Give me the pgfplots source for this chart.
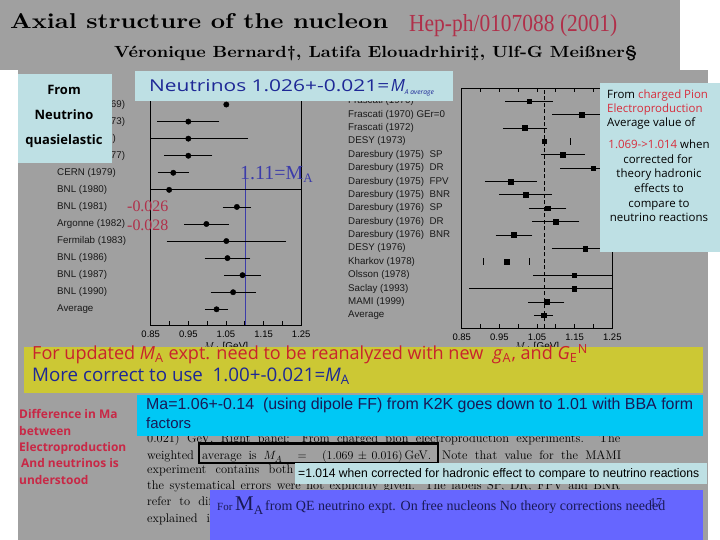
\documentclass[border=0pt]{standalone}
\usepackage{fontspec}
\usepackage{graphicx}
\usepackage{pgfplots}
\usepackage{pgfplotstable}
\pgfplotsset{compat=1.18}
\newfontfamily\helv{Liberation Sans}
\newfontfamily\tnr{Liberation Serif}
\newfontfamily\comic{Open Sans}
\definecolor{bggray}{RGB}{160,160,160}
\definecolor{lcyan}{RGB}{190,224,228}
\definecolor{bcyan}{RGB}{0,200,245}
\definecolor{yel}{RGB}{204,200,52}
\definecolor{purp}{RGB}{102,102,255}
\definecolor{dblue}{RGB}{30,40,150}
\definecolor{crim}{RGB}{200,40,70}
\definecolor{boxred}{RGB}{215,45,60}
\definecolor{yred}{RGB}{200,35,45}
\definecolor{hepred}{RGB}{176,48,74}
\definecolor{navy}{RGB}{25,25,85}
\definecolor{ltblue}{RGB}{60,60,170}

% rows counted from the bottom (Average = 1)
\pgfplotstableread{
y x e
12 0.950 0.074
11 0.950 0.150
10 0.950 0.055
9 0.910 0.033
8 0.899 0.400
7 1.079 0.029
6 0.998 0.050
5 1.051 0.150
4 1.054 0.052
3 1.094 0.040
2 1.069 0.051
1 1.025 0.022
}\leftdata

\pgfplotstableread{
y x e
17 1.029 0.054
16 1.169 0.070
15 1.018 0.050
13 1.119 0.049
12 1.199 0.078
11 0.980 0.060
10 1.020 0.061
9 1.078 0.041
8 1.100 0.054
7 0.989 0.040
6 1.178 0.080
4 1.149 0.100
3 1.149 0.270
2 1.075 0.039
1 1.067 0.016
}\rightdata

\pgfplotsset{
  panel/.style={
    scale only axis, xmin=0.85, xmax=1.25,
    xtick={0.85,0.9,0.95,1,1.05,1.1,1.15,1.2,1.25},
    xticklabels={0.85,,0.95,,1.05,,1.15,,1.25},
    xtick pos=both, xticklabel pos=lower,
    tick align=inside, major tick length=4bp,
    ytick style={draw=none},
    xtick style={black, line width=0.7bp},
    axis line style={black, line width=0.9bp},
    xticklabel style={font=\helv\fontsize{9.5}{10}\selectfont, yshift=-2bp},
    yticklabel style={font=\helv\fontsize{9.8}{10}\selectfont, anchor=west, inner sep=0pt, text=black!90},
  },
  ebar/.style={black, only marks, mark size=2.7bp,
    /pgfplots/error bars/x dir=both, /pgfplots/error bars/x explicit,
    /pgfplots/error bars/error bar style={line width=0.8bp, black},
    /pgfplots/error bars/error mark options={mark size=3.3bp, line width=0.8bp, black}},
}

\tikzset{t/.style={anchor=base west, inner sep=0pt}, tc/.style={anchor=base, inner sep=0pt}}

\begin{document}
\begin{tikzpicture}[x=1bp,y=1bp]
\useasboundingbox (0,0) rectangle (720,540);
\fill[white] (0,0) rectangle (720,540);
\fill[bggray] (0,470) rectangle (680,540);
\fill[bggray] (18,0) rectangle (708,470);

% title area
\node[t] at (10,511) {\resizebox{378bp}{15bp}{\bfseries Axial structure of the nucleon}};
\node[t, text=hepred] at (409,508.5) {\resizebox{208bp}{17bp}{\tnr Hep-ph/0107088 (2001)}};
\node[t] at (114,482) {\resizebox{523bp}{11.5bp}{\bfseries Véronique Bernard\textdagger, Latifa Elouadrhiri\textdaggerdbl, Ulf-G Meißner\S}};

% left panel
\begin{axis}[panel, at={(150.7bp,215bp)}, anchor=south west, width=150.5bp, height=237bp,
  ymin=0.08, ymax=13.97, ytick={1,...,13},
  yticklabels={Average,BNL (1990),BNL (1987),BNL (1986),Fermilab (1983),Argonne (1982),BNL (1981),BNL (1980),CERN (1979),Argonne (1977),CERN (1977),Argonne (1973),Argonne (1969)},
  yticklabel style={xshift=-93.7bp}]
\addplot[ltblue, line width=1bp] coordinates {(1.103,9.3) (1.103,0.08)};
\addplot[ebar, mark=*] table[x=x, y=y, x error=e] {\leftdata};
\addplot[black, only marks, mark=*, mark size=2.7bp] coordinates {(1.051,13)};
\end{axis}
\node[tc, font=\helv\fontsize{10}{10}\selectfont] at (226,190) {$M_A$ [GeV]};

% right panel
\begin{axis}[panel, at={(461.7bp,212bp)}, anchor=south west, width=150.6bp, height=239.7bp,
  ymin=0.05, ymax=17.97, ytick={1,...,17},
  yticklabels={Average,MAMI (1999),Saclay (1993),Olsson (1978),Kharkov (1978),DESY (1976),Daresbury (1976)\ \ BNR,Daresbury (1976)\ \ DR,Daresbury (1976)\ \ SP,Daresbury (1975)\ \ BNR,Daresbury (1975)\ \ FPV,Daresbury (1975)\ \ DR,Daresbury (1975)\ \ SP,DESY (1973),Frascati (1972),Frascati (1970) GEr=0,Frascati (1970)},
  yticklabel style={xshift=-113.7bp}]
\addplot[black, line width=0.8bp, dash pattern=on 4bp off 2.5bp] coordinates {(1.069,0.05) (1.069,17.97)};
\addplot[ebar, mark=square*, mark size=2.4bp] table[x=x, y=y, x error=e] {\rightdata};
\addplot[black, only marks, mark=square*, mark size=2.2bp] coordinates {(1.069,14) (0.970,5)};
\addplot[black, only marks, mark=|, mark size=3.3bp, line width=0.8bp] coordinates {(1.138,14) (0.908,5) (1.030,5)};
\end{axis}
\node[tc, font=\helv\fontsize{10}{10}\selectfont] at (537,190) {$M_A$ [GeV]};

% text in red/blue on the plots
\node[t, text=ltblue] at (240,360) {\tnr\fontsize{20}{20}\selectfont 1.11=M\raisebox{-3bp}{\fontsize{13}{13}\selectfont A}};
\node[t, text=hepred] at (127,328) {\tnr\fontsize{16}{16}\selectfont -0.026};
\node[t, text=hepred] at (127,309) {\tnr\fontsize{16}{16}\selectfont -0.028};

% From Neutrino box
\fill[lcyan] (18,377) rectangle (112,466);
\node[tc] at (64,445) {\comic\bfseries\fontsize{13}{13}\selectfont From};
\node[tc] at (64,420.5) {\comic\bfseries\fontsize{13}{13}\selectfont Neutrino};
\node[tc] at (64,395) {\comic\bfseries\fontsize{13}{13}\selectfont quasielastic};

% Neutrinos box
\fill[lcyan] (135,438.5) rectangle (453,469);
\node[t, text=dblue] at (149,448) {\resizebox{240bp}{12bp}{\comic Neutrinos 1.026+-0.021=}\,\resizebox{!}{12bp}{\comic\itshape M}\raisebox{-3bp}{\resizebox{29bp}{!}{\comic\itshape A average}}};

% right explanation box
\fill[lcyan] (600,288) rectangle (720,457);
\begin{scope}[every node/.append style={font=\comic\fontsize{11.5}{11.5}\selectfont}]
\node[t] at (607,441) {From \textcolor{boxred}{charged Pion}};
\node[t, text=boxred] at (607,427) {Electroproduction};
\node[t] at (607,413) {Average value of};
\node[tc] at (659,391) {\textcolor{boxred}{1.069->1.014} when};
\node[tc] at (658,376) {corrected for};
\node[tc] at (659,362) {theory hadronic};
\node[tc] at (659,347) {effects to};
\node[tc] at (659,332.5) {compare to};
\node[tc] at (659,318) {neutrino reactions};
\end{scope}

% background paper text
\begin{scope}[every node/.append style={font=\fontsize{12.5}{14}\selectfont}]
\node[t] at (147,97) {\makebox[473bp][s]{0.021) GeV. Right panel: From charged pion electroproduction experiments. The}};
\node[t] at (147,80) {weighted};
\node[t] at (202,80) {\makebox[229bp][s]{average is $M_A\;=\;(1.069\pm0.016)\,$GeV.}};
\node[t] at (442,80) {\makebox[179bp][s]{Note that value for the MAMI}};
\node[t] at (147,66) {\makebox[473bp][s]{experiment contains both the statistical and systematical errors, for the others}};
\node[t] at (147,50) {\makebox[473bp][s]{the systematical errors were not explicitly given. The labels SP, DR, FPV and BNR}};
\node[t] at (147,34) {\makebox[473bp][s]{refer to different methods of extracting the axial mass from these data as it is}};
\node[t] at (147,17) {\makebox[473bp][s]{explained in detail in the text and also in the original references given there.}};
\end{scope}
\draw[line width=2.5bp] (199,77) rectangle (438,96.5);

% yellow box
\fill[yel] (24,147) rectangle (703,193);
\node[t, text=yred] at (32,180) {\resizebox{556bp}{!}{\comic For updated \textit{M}\textsubscript{A} expt. need to be reanalyzed with new\ \ \textit{g}\textsubscript{A}, and \textit{G}\textsubscript{E}\textsuperscript{N}}};
\node[t, text=dblue] at (32,158) {\resizebox{318bp}{!}{\comic More correct to use\ \ 1.00+-0.021=\textit{M}\textsubscript{A}}};

% cyan K2K box
\fill[bcyan] (137,104) rectangle (703,145);
\node[t, text=navy] at (146,130) {\resizebox{547bp}{!}{\helv Ma=1.06+-0.14\ \ (using dipole FF) from K2K goes down to 1.01 with BBA form}};
\node[t, text=navy] at (146,111) {\helv\fontsize{15}{15}\selectfont factors};

% left red text
\begin{scope}[every node/.append style={font=\comic\bfseries\fontsize{12}{12}\selectfont, text=crim}]
\node[t] at (19,121.5) {Difference in Ma};
\node[t] at (19,104) {between};
\node[t] at (19,88.5) {Electroproduction};
\node[t] at (21,72.5) {And neutrinos is};
\node[t] at (19,55.5) {understood};
\end{scope}

% =1.014 box
\fill[lcyan] (295,56) rectangle (707,77);
\node[t] at (298,62.5) {\resizebox{401bp}{9bp}{\helv =1.014 when corrected for hadronic effect to compare to neutrino reactions}};

% purple box
\fill[purp] (210,0) rectangle (703,50);
\node[t, text=navy] at (217,29) {\tnr\fontsize{11}{11}\selectfont For\ \fontsize{21}{21}\selectfont M\raisebox{-4bp}{\fontsize{13}{13}\selectfont A}};
\node[t, text=navy] at (265,29) {\resizebox{400bp}{!}{\tnr from QE neutrino expt. On free nucleons No theory corrections needed}};
\node[t, text=navy] at (650,33) {\tnr\fontsize{12}{12}\selectfont 17};
\end{tikzpicture}
\end{document}
